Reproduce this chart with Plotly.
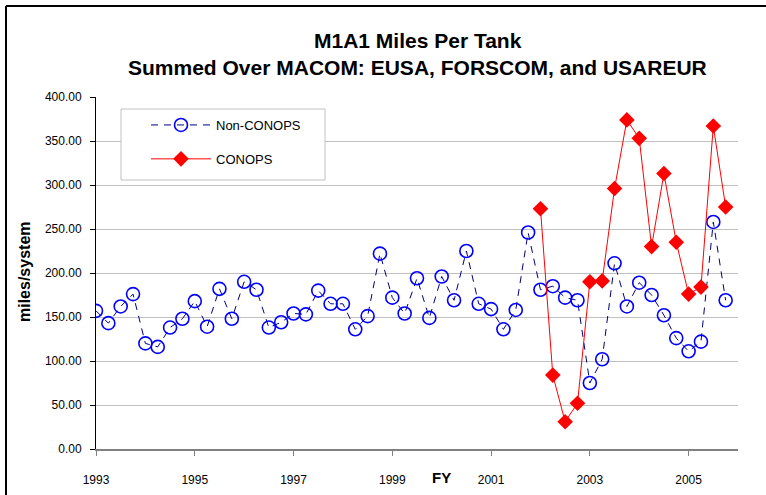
import plotly.graph_objects as go

# Quarterly fiscal-year categories, FY1993 Q1 .. FY2005 Q4
fy_start = 1993
n_quarters = 52
fy = [fy_start + q / 4 for q in range(n_quarters)]

non_conops = [157, 143, 162, 176, 120, 116, 138, 148, 168, 139,
              182, 148, 190, 181, 138, 144, 154, 153, 180, 165,
              165, 136, 151, 222, 172, 154, 194, 149, 196, 169,
              225, 165, 159, 136, 158, 246, 181, 185, 172, 169,
              75, 102, 211, 162, 189, 175, 152, 126, 111, 122,
              258, 169]

conops_start = 36
conops = [273, 84, 31, 52, 190, 191, 296, 374, 353, 230,
          313, 235, 176, 184, 367, 275]

x_ticks = [1993, 1995, 1997, 1999, 2001, 2003, 2005]
x_ticktext = ["1993", "1995", "1997", "1999", "2001", "2003", "2005"]

title_line1 = "M1A1 Miles Per Tank"
title_line2 = "Summed Over MACOM: EUSA, FORSCOM, and USAREUR"

FONT = "Arial, 'Liberation Sans', sans-serif"

W, H = 766, 495
PL, PR, PT, PB = 96, 738, 97, 449   # plot area in pixels
L, R, T, B = PL, W - PR, PT, H - PB
pw, ph = W - L - R, H - T - B

def px(xr):
    return (xr - L) / pw

def py(yr):
    return (H - B - yr) / ph

fig = go.Figure()
fig.add_trace(go.Scatter(
    x=fy, y=non_conops, mode="lines+markers", name="Non-CONOPS",
    legendgroup="a",
    line=dict(color="#000080", width=1, dash="7px,6px"),
    marker=dict(symbol="circle-open", size=13, color="#0000ff",
                line=dict(color="#0000ff", width=1.6)),
))
fig.add_trace(go.Scatter(
    x=fy[conops_start:conops_start + len(conops)], y=conops,
    mode="lines+markers", name="CONOPS", legendgroup="b",
    line=dict(color="#ff0000", width=1),
    marker=dict(symbol="diamond", size=12, color="#ff0000",
                line=dict(color="#ff0000", width=0)),
))

fig.update_layout(
    width=W, height=H,
    margin=dict(l=L, r=R, t=T, b=B),
    paper_bgcolor="white", plot_bgcolor="white",
    font=dict(family=FONT, size=12, color="black"),
    showlegend=True,
    legend=dict(x=px(146), y=py(110), xanchor="left", yanchor="top",
                bgcolor="rgba(0,0,0,0)", borderwidth=0,
                font=dict(family=FONT, size=13, color="black"),
                itemwidth=60, tracegroupgap=14, traceorder="grouped"),
    xaxis=dict(range=[1993, 2006], tickmode="array", tickvals=x_ticks, ticktext=x_ticktext,
               showgrid=False, zeroline=False, showline=True, linecolor="#808080", linewidth=2,
               ticks="outside", ticklen=5, tickcolor="#808080", tickwidth=1, automargin=False,
               tickfont=dict(family=FONT, size=12), ticklabelstandoff=14),
    yaxis=dict(range=[0, 400], dtick=50, tickformat=".2f",
               showgrid=True, gridcolor="#c0c0c0", gridwidth=1, zeroline=False,
               showline=True, linecolor="black", linewidth=1, automargin=False,
               ticks="outside", ticklen=5, tickcolor="black",
               tickfont=dict(family=FONT, size=12), ticklabelstandoff=6),
)

# legend box
fig.add_shape(type="rect", xref="paper", yref="paper",
              x0=px(121), x1=px(325), y0=py(180), y1=py(109),
              line=dict(color="#c0c0c0", width=1), fillcolor="white", layer="above")

# titles
fig.add_annotation(text="<b>%s</b>" % title_line1, xref="paper", yref="paper",
                   x=px(418), y=py(40), showarrow=False, xanchor="center", yanchor="middle",
                   font=dict(family=FONT, size=21, color="black"))
fig.add_annotation(text="<b>%s</b>" % title_line2, xref="paper", yref="paper",
                   x=px(418), y=py(67), showarrow=False, xanchor="center", yanchor="middle",
                   font=dict(family=FONT, size=21, color="black"))

fig.add_annotation(text="<b>miles/system</b>", xref="paper", yref="paper",
                   x=px(24), y=py(272), textangle=-90,
                   showarrow=False, font=dict(family=FONT, size=16, color="black"),
                   xanchor="center", yanchor="middle")
fig.add_annotation(text="<b>FY</b>", xref="x", yref="paper",
                   x=2000, y=py(477),
                   showarrow=False, font=dict(family=FONT, size=15, color="black"),
                   xanchor="center", yanchor="middle")

# chart-area frame (only top and left edges are within the picture)
fig.add_shape(type="line", xref="paper", yref="paper",
              x0=px(6), x1=px(770), y0=py(6), y1=py(6),
              line=dict(color="black", width=2), layer="below")
fig.add_shape(type="line", xref="paper", yref="paper",
              x0=px(6), x1=px(6), y0=py(6), y1=py(500),
              line=dict(color="black", width=2), layer="below")

fig.write_html("out.html", config={"displayModeBar": False},
               post_script="document.body.style.margin='0';")
